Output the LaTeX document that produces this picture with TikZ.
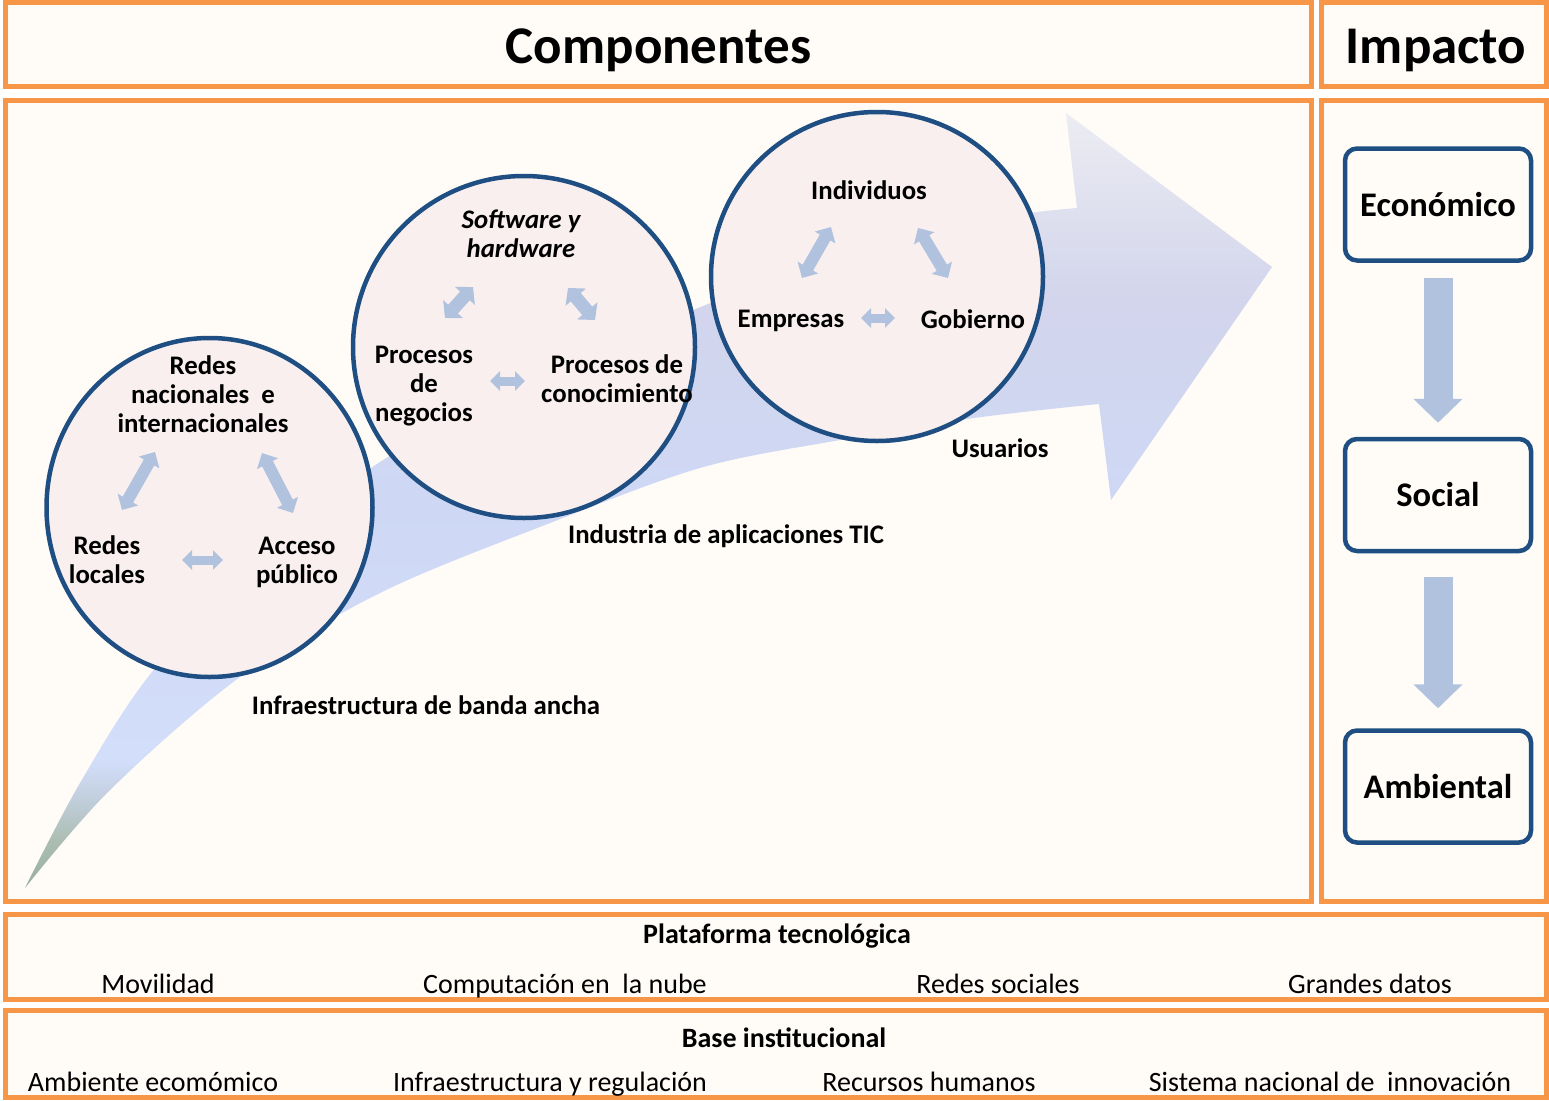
\documentclass[tikz,border=0pt]{standalone}
\usepackage{fontspec}
\setmainfont{Carlito}
\usetikzlibrary{arrows.meta,shapes.geometric}
\definecolor{orng}{HTML}{F79646}
\definecolor{paper}{HTML}{FFFCF7}
\definecolor{navy}{HTML}{1F4E82}
\definecolor{pinkfill}{HTML}{F9EFEF}
\definecolor{steel}{HTML}{B0C2DE}
\definecolor{ga}{HTML}{98AE9E}
\definecolor{gb}{HTML}{ABBDB2}
\definecolor{gc}{HTML}{C6D2E4}
\definecolor{gd}{HTML}{D3DEFB}
\definecolor{ge}{HTML}{CED8F5}
\definecolor{gf}{HTML}{D2D5EC}
\definecolor{gg}{HTML}{ECECF2}
\pgfdeclareverticalshading{arrowshade}{100bp}{color(0bp)=(ga); color(25bp)=(ga); color(28bp)=(gb); color(31.3bp)=(gc); color(33.3bp)=(gd); color(50bp)=(ge); color(62.9bp)=(gf); color(75bp)=(gg); color(100bp)=(gg)}
\tikzset{
  panel/.style={draw=orng, line width=5pt, fill=paper, inner sep=0pt},
  ttl/.style={font=\fontsize{53}{60}\selectfont\bfseries, inner sep=0pt, anchor=base},
  ring/.style={ellipse, draw=navy, line width=4.5pt, fill=pinkfill, inner sep=0pt},
  ctext/.style={font=\fontsize{26.8}{29}\selectfont\bfseries, align=center, inner sep=0pt},
  lbl/.style={font=\fontsize{26.8}{29}\selectfont\bfseries, inner sep=0pt, anchor=base},
  diag/.style={draw=steel, line width=12pt, arrows={Triangle[length=12pt,width=23pt]-Triangle[length=12pt,width=23pt]}},
  fatdiag/.style={draw=steel, line width=13pt, arrows={Triangle[length=12pt,width=26pt]-Triangle[length=12pt,width=26pt]}},
  horiz/.style={draw=steel, line width=9pt, arrows={Triangle[length=10pt,width=19pt]-Triangle[length=10pt,width=19pt]}},
  impbox/.style={draw=navy, line width=4.5pt, rounded corners=12pt, fill=paper, minimum width=186pt, minimum height=112pt, font=\fontsize{34.5}{40}\selectfont\bfseries},
  downarr/.style={draw=steel, line width=29pt, arrows={-Triangle[length=24pt,width=48pt]}},
  btitle/.style={font=\fontsize{28}{32}\selectfont\bfseries, inner sep=0pt, anchor=base},
  bitem/.style={font=\fontsize{28}{32}\selectfont, inner sep=0pt, anchor=base}
}
\begin{document}
\begin{tikzpicture}[x=1pt,y=-1pt]
\useasboundingbox (0,0) rectangle (1549,1100);
\fill[white] (0,0) rectangle (1549,1100);

% header panels
\node[panel, minimum width=1306pt, minimum height=83.5pt] (comp) at (658.5,44.25) {};
\node[panel, minimum width=225.5pt, minimum height=83.5pt] (imp) at (1433.75,44.25) {};
\node[ttl] (compt) at (658.5,63) {Componentes};
\node[ttl] (impt) at (1436,63) {Impacto};

% main panels
\node[panel, minimum width=1306pt, minimum height=800.5pt] (main) at (658.5,500.75) {};
\node[panel, minimum width=225.5pt, minimum height=800.5pt] (right) at (1433.75,500.75) {};

% big curved arrow
\shade[shading=arrowshade]
  plot[smooth, tension=0.55] coordinates {(25,888) (80,783) (152,672) (262,557) (380,462) (540,377) (698,308) (870,246) (1003,217) (1077,208)}
  -- (1066,113) -- (1272,267) -- (1111,500) -- (1099,404)
  -- plot[smooth, tension=0.55] coordinates {(1099,404) (974,418) (840,440) (700,468) (545,525) (380,593) (240,677) (110,790) (25,888)}
  -- cycle;

% circles
\node[ring, minimum width=326pt, minimum height=339pt] (c1) at (209.5,507.5) {};
\node[ring, minimum width=342pt, minimum height=342pt] (c2) at (524,347) {};
\node[ring, minimum width=332pt, minimum height=329pt] (c3) at (877,276.5) {};

% circle 1 contents
\node[ctext] (rni) at (203,394) {Redes\\nacionales\ \ e\\internacionales};
\node[ctext] (rl) at (107,560) {Redes\\locales};
\node[ctext] (ap) at (297,562) {Acceso\\público};
\coordinate (a1s) at (122,510); \coordinate (a1e) at (155,452);
\coordinate (a2s) at (262,453); \coordinate (a2e) at (293,513);
\coordinate (a3s) at (182,560); \coordinate (a3e) at (223,560);
\draw[diag] (a1s) -- (a1e);
\draw[diag] (a2s) -- (a2e);
\draw[horiz] (a3s) -- (a3e);

% circle 2 contents
\node[ctext] (sh) at (521,234) {\itshape Software y\\\itshape hardware};
\node[ctext] (pn) at (424,386) {Procesos\\de\\negocios};
\node[ctext] (pc) at (617,378.5) {Procesos de\\conocimiento};
\coordinate (b1s) at (445,318); \coordinate (b1e) at (473,287);
\coordinate (b2s) at (568,288); \coordinate (b2e) at (595,320);
\coordinate (b3s) at (490,381); \coordinate (b3e) at (525,381);
\draw[fatdiag] (b1s) -- (b1e);
\draw[fatdiag] (b2s) -- (b2e);
\draw[horiz] (b3s) -- (b3e);

% circle 3 contents
\node[lbl] (indiv) at (869,199.5) {Individuos};
\node[lbl] (emp) at (791,327) {Empresas};
\node[lbl] (gob) at (973,328) {Gobierno};
\coordinate (d1s) at (802,278); \coordinate (d1e) at (831,227);
\coordinate (d2s) at (918,228); \coordinate (d2e) at (948,278);
\coordinate (d3s) at (861,318); \coordinate (d3e) at (895,318);
\draw[diag] (d1s) -- (d1e);
\draw[diag] (d2s) -- (d2e);
\draw[horiz] (d3s) -- (d3e);

% labels
\node[lbl] (usu) at (1000,457.5) {Usuarios};
\node[lbl] (indtic) at (726,543.5) {Industria de aplicaciones TIC};
\node[lbl] (infra) at (426,714.5) {Infraestructura de banda ancha};

% impact column
\node[impbox] (eco) at (1438,204.5) {Económico};
\node[impbox] (soc) at (1438,495) {Social};
\node[impbox] (amb) at (1438,786.5) {Ambiental};
\draw[downarr, shorten <=15pt, shorten >=14pt] (eco.south) -- (soc.north);
\draw[downarr, shorten <=24pt, shorten >=20pt] (soc.south) -- (amb.north);

% bottom panels
\node[panel, minimum width=1541pt, minimum height=85pt] (plat) at (776,957) {};
\node[panel, minimum width=1541pt, minimum height=86.5pt] (base) at (776,1053.75) {};
\node[btitle] (platt) at (777,943.5) {Plataforma tecnológica};
\node[bitem] (mov) at (158,993) {Movilidad};
\node[bitem] (nube) at (565,993) {Computación en\ \ la nube};
\node[bitem] (rs) at (998,993) {Redes sociales};
\node[bitem] (gd) at (1370,993) {Grandes datos};
\node[btitle] (baset) at (784,1047.5) {Base institucional};
\node[bitem] (amb2) at (153,1091) {Ambiente ecomómico};
\node[bitem] (infr2) at (550,1091) {Infraestructura y regulación};
\node[bitem] (rh) at (929,1091) {Recursos humanos};
\node[bitem] (sni) at (1330,1091) {Sistema nacional de\ \ innovación};
\end{tikzpicture}
\end{document}
